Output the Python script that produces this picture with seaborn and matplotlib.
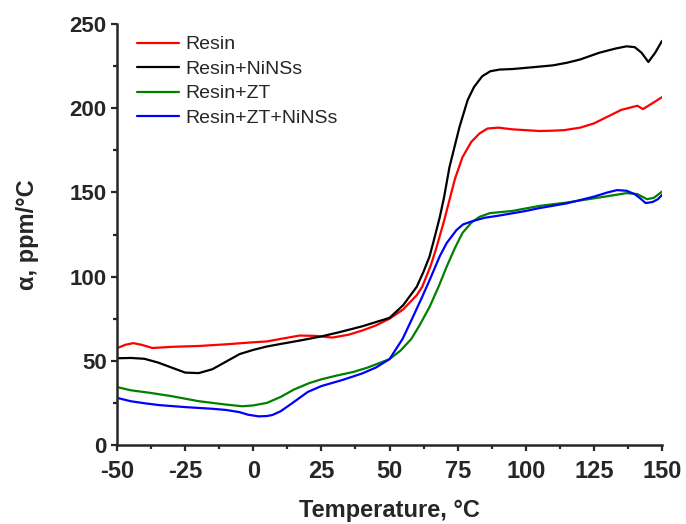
import numpy as np
import pandas as pd
import matplotlib
matplotlib.use("Agg")
import matplotlib.pyplot as plt
import seaborn as sns
from matplotlib.ticker import MultipleLocator

# temperature (°C) and CTE (ppm/°C)
resin_t = [-50, -47, -44, -41, -37, -30, -20, -10, 0, 5, 10, 17, 23, 29, 35, 40, 45, 50,
           55, 60, 62, 65, 67, 70, 72, 74, 76.8, 80, 83, 86, 90, 95, 100, 105, 110, 114,
           120, 125, 130, 135, 139, 141, 143, 146, 150]
resin_a = [57.5, 59.5, 60.5, 59.5, 57.6, 58.3, 58.8, 59.8, 61, 61.5, 63, 65, 64.8, 63.8,
           65.5, 68, 71, 75, 80.5, 89, 94, 106, 116, 133, 145.5, 158, 171, 180, 185, 188,
           188.5, 187.5, 187, 186.5, 186.7, 187, 188.5, 191, 195, 199, 200.7, 201.5,
           199.5, 202.5, 206.6]

nins_t = [-50, -45, -40, -35, -30, -25, -20, -15, -10, -5, 0, 5, 10, 17, 25, 31.6, 40, 45,
          50, 55, 60, 62.5, 64.7, 66.5, 68.4, 70, 72, 74, 75.7, 78.7, 81, 84, 87, 90.4, 95,
          100, 110, 115, 120, 127, 133, 137, 140, 142.5, 145, 147.5, 150]
nins_a = [51.5, 51.7, 51.2, 49, 46, 43, 42.7, 45, 49.5, 54, 56.5, 58.5, 60, 62, 64.5, 67,
          70.5, 73, 75.5, 83, 94, 103, 112, 123, 135, 147, 165, 178, 189, 205, 212.6, 219,
          222, 223, 223.3, 224, 225.5, 227, 229, 233, 235.5, 236.8, 236.3, 233, 227.5,
          233, 240]

zt_t = [-50, -45, -38, -30, -20, -10, -4, 0, 5, 10, 15, 20.6, 25, 30, 37, 42, 46, 50, 54,
        58, 61, 64.7, 68, 71, 74, 76.8, 80, 83, 86.8, 95, 105, 115, 125, 132, 137, 141,
        144.5, 147, 150]
zt_a = [34.4, 32.5, 31, 29, 26, 24, 23, 23.5, 25, 28.5, 33, 36.8, 39, 41, 43.5, 46, 48.5,
        51, 56, 63, 71, 82, 94, 106, 117, 126, 132, 135.5, 137.7, 139, 142, 144, 146.5,
        148.3, 149.6, 149, 146, 146.8, 150.5]

ztn_t = [-50, -45, -40, -34.6, -25, -15, -10, -5, -2, 2, 5, 7, 10, 14, 17, 20, 25, 32.7,
         40, 45, 50, 54.8, 58, 62, 65, 68.4, 71, 74.6, 77, 80.5, 85, 90, 100, 105, 115,
         125, 130, 133.5, 137, 140, 142, 144, 146.5, 148.5, 150]
ztn_a = [28, 26, 24.8, 23.7, 22.5, 21.5, 20.8, 19.5, 18, 17, 17.2, 17.8, 20, 24.5, 28,
         31.5, 35, 38.6, 42.5, 46, 51, 63, 74, 88, 99, 112, 120, 127.7, 131, 133, 135,
         136.2, 139, 140.7, 143.5, 147.5, 150, 151.4, 151, 149, 146.5, 143.7, 144.3, 146,
         148.5]

labels = ["Resin", "Resin+NiNSs", "Resin+ZT", "Resin+ZT+NiNSs"]
colors = ["#ff0000", "#000000", "#008000", "#0000ff"]

frames = []
for lab, t, a in zip(labels, [resin_t, nins_t, zt_t, ztn_t],
                     [resin_a, nins_a, zt_a, ztn_a]):
    frames.append(pd.DataFrame({"T": t, "alpha": a, "sample": lab}))
df = pd.concat(frames, ignore_index=True)

sns.set_theme(style="ticks")
plt.rcParams["font.family"] = ["Liberation Sans", "DejaVu Sans"]
plt.rcParams["axes.unicode_minus"] = False

fig = plt.figure(figsize=(6.86, 5.24), dpi=100)
ax = fig.add_axes([0.1706, 0.1508, 0.7944, 0.8032])

sns.lineplot(data=df, x="T", y="alpha", hue="sample", hue_order=labels,
             palette=colors, sort=False, estimator=None, linewidth=1.6, ax=ax)

ax.set_xlim(-50, 150)
ax.set_ylim(0, 250)
ax.xaxis.set_major_locator(MultipleLocator(25))
ax.xaxis.set_minor_locator(MultipleLocator(12.5))
ax.yaxis.set_major_locator(MultipleLocator(50))
ax.yaxis.set_minor_locator(MultipleLocator(25))

sns.despine(ax=ax)
for s in ["left", "bottom"]:
    ax.spines[s].set_linewidth(1.8)
ax.tick_params(which="major", length=4.5, width=1.6, direction="out")
ax.tick_params(which="minor", length=3, width=1.6, direction="out")
ax.tick_params(axis="x", labelsize=17, pad=6)
ax.tick_params(axis="y", labelsize=16, pad=3)
for lbl in ax.get_xticklabels() + ax.get_yticklabels():
    lbl.set_fontweight("bold")

ax.set_xlabel("Temperature, °C", fontsize=17, fontweight="bold", labelpad=12)
ax.set_ylabel("α, ppm/°C", fontsize=17, fontweight="bold", labelpad=22)

leg = ax.legend(loc="upper left", bbox_to_anchor=(0.036, 0.972), frameon=False,
                fontsize=14, handlelength=2.2, handletextpad=0.3,
                labelspacing=0.35, borderpad=0, borderaxespad=0)
for line in leg.get_lines():
    line.set_linewidth(1.6)

fig.savefig("out.png", dpi=100)
